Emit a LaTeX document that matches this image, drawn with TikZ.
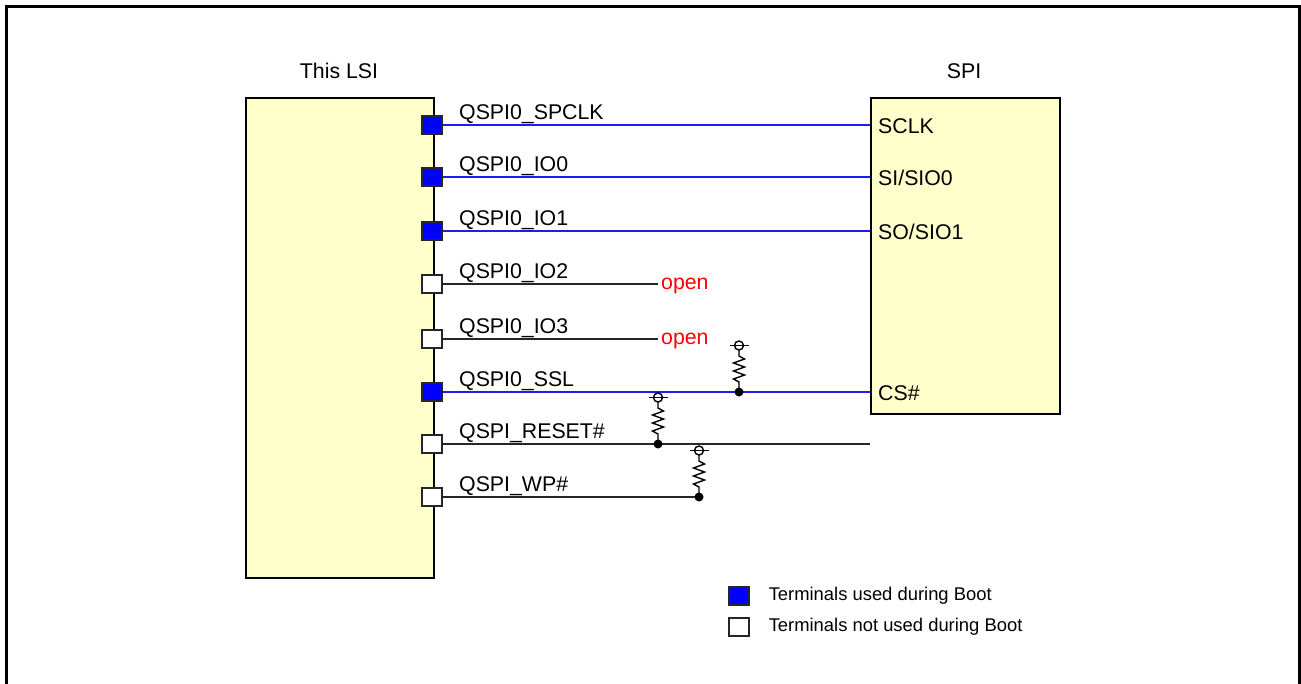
\documentclass[tikz,border=0pt]{standalone}
\usepackage{fontspec}
\setmainfont{Liberation Sans}
\usetikzlibrary{positioning}

\definecolor{chipfill}{RGB}{255,255,204}
\definecolor{pinblue}{RGB}{0,0,255}
\definecolor{wireblue}{RGB}{30,30,235}
\definecolor{openred}{RGB}{255,0,0}

\tikzset{
  chip/.style={draw,line width=1.5pt,fill=chipfill,inner sep=0pt},
  pinused/.style={draw=black!85,line width=1.1pt,fill=pinblue,minimum width=20pt,minimum height=18pt,inner sep=0pt},
  pinfree/.style={draw=black!85,line width=1.1pt,fill=white,minimum width=20pt,minimum height=18pt,inner sep=0pt},
  txt/.style={font=\fontsize{21.3}{25}\selectfont},
  sig/.style={txt,inner sep=0pt,anchor=base west},
  bwire/.style={wireblue,line width=1.3pt},
  kwire/.style={black!85,line width=1.4pt},
  pullup/.style={line width=1.4pt},
}

\begin{document}
\begin{tikzpicture}[x=1pt,y=-1pt]
  \useasboundingbox (0,0) rectangle (1301,683);
  \draw[line width=3pt] (6,700) -- (6,6) -- (1299,6) -- (1299,700);

  % devices
  \node[chip,minimum width=188pt,minimum height=480pt,anchor=north west] (lsi) at (245,97) {};
  \node[chip,minimum width=189pt,minimum height=316pt,anchor=north west] (spi) at (870,97) {};
  \node[txt] (lsiname) at (339,71) {This LSI};
  \node[txt] (spiname) at (964,71) {SPI};

  % terminals of this LSI
  \foreach \y/\nm/\txt/\kind in {125/p1/QSPI0\_SPCLK/pinused,177/p2/QSPI0\_IO0/pinused,
      231/p3/QSPI0\_IO1/pinused,284/p4/QSPI0\_IO2/pinfree,339/p5/QSPI0\_IO3/pinfree,
      392/p6/QSPI0\_SSL/pinused,444/p7/QSPI\_RESET\#/pinfree,497/p8/QSPI\_WP\#/pinfree}{
    \node[\kind] (\nm) at (432,\y) {};
    \node[sig] (\nm txt) at (459,\y-6) {\txt};
  }

  % SPI terminals
  \foreach \y/\nm/\txt in {125/sclk/SCLK,177/sio0/{SI/SIO0},231/sio1/{SO/SIO1},392/cs/CS\#}
    \node[txt,anchor=west,inner sep=0pt] (\nm) at (878,\y+1) {\txt};

  % wires
  \node[txt,text=openred,anchor=west,inner sep=3pt] (open2) at (658,286) {open};
  \node[txt,text=openred,anchor=west,inner sep=3pt] (open3) at (658,341) {open};
  \draw[bwire] (p1.east) -- (p1 -| spi.west);
  \draw[bwire] (p2.east) -- (p2 -| spi.west);
  \draw[bwire] (p3.east) -- (p3 -| spi.west);
  \draw[bwire] (p6.east) -- (p6 -| spi.west);
  \draw[kwire] (p4.east) -- (p4 -| open2.west);
  \draw[kwire] (p5.east) -- (p5 -| open3.west);
  \draw[kwire] (p7.east) -- (p7 -| spi.west);
  \coordinate (wpend) at (699,497);
  \draw[kwire] (p8.east) -- (wpend);

  % pull-up resistors
  \foreach \x/\y in {739/392,658/444,699/497}{
    \fill (\x,\y) circle (4.5pt);
    \draw[pullup] (\x,\y) -- (\x,\y-10) -- (\x-5.5,\y-13) -- (\x+5.5,\y-17) -- (\x-5.5,\y-21)
      -- (\x+5.5,\y-25) -- (\x-5.5,\y-29) -- (\x+5.5,\y-33) -- (\x,\y-36) -- (\x,\y-42);
    \draw[pullup] (\x,\y-46.5) circle (4.5pt);
    \draw[pullup] (\x-9.5,\y-46.5) -- (\x+9.5,\y-46.5);
  }

  % legend
  \node[pinused] (keyused) at (739,596) {};
  \node[pinfree] (keyfree) at (739,627) {};
  \node[font=\fontsize{18.4}{22}\selectfont,right=19pt of keyused,inner sep=0pt] (keyusedtxt) {Terminals used during Boot};
  \node[font=\fontsize{18.4}{22}\selectfont,right=19pt of keyfree,inner sep=0pt] (keyfreetxt) {Terminals not used during Boot};
\end{tikzpicture}
\end{document}
